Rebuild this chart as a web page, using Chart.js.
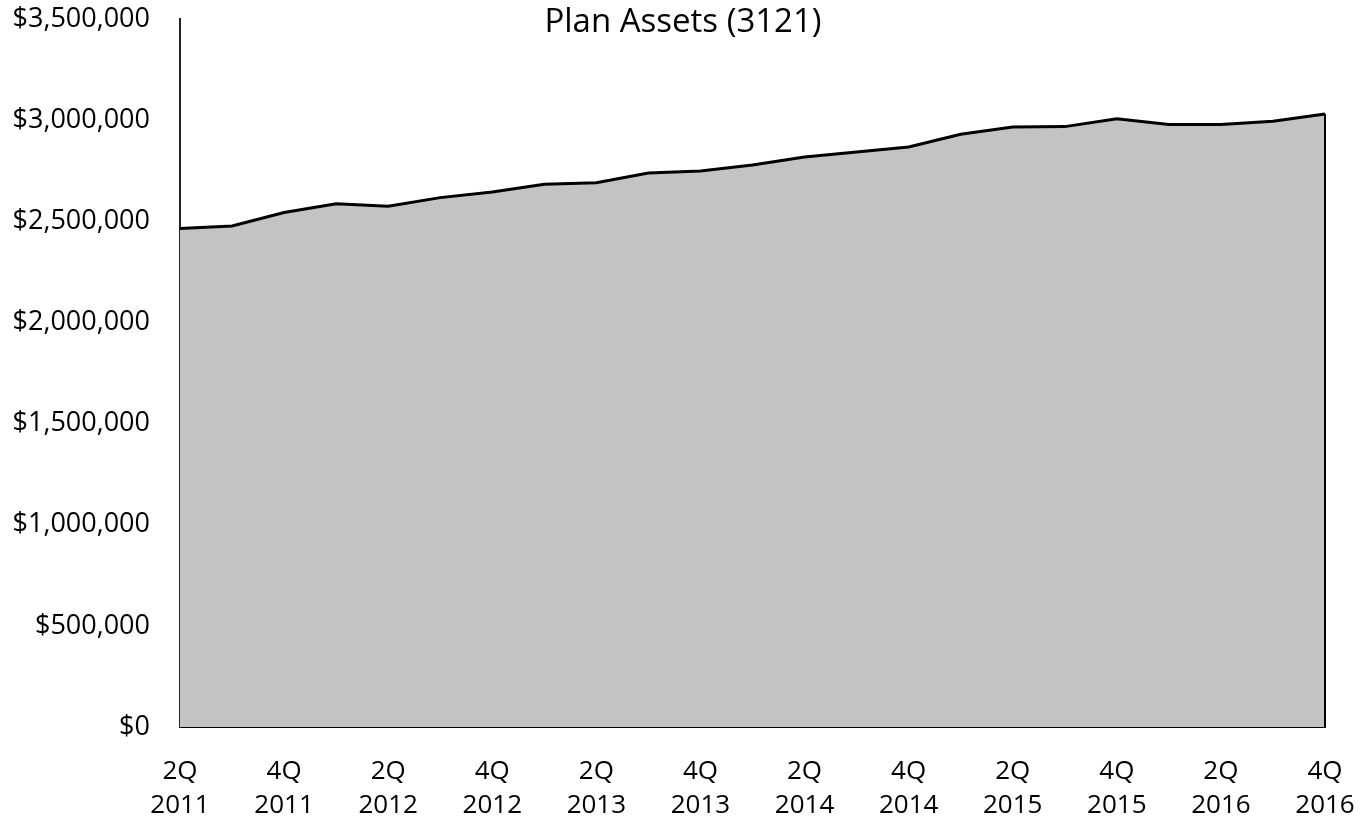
<!DOCTYPE html>
<html>
<head>
<meta charset="utf-8">
<script src="https://cdn.jsdelivr.net/npm/chart.js@4/dist/chart.umd.min.js"></script>
<style>
  html, body { margin: 0; padding: 0; background: #fff; }
  #wrap { position: relative; width: 1370px; height: 825px; }
  #title { position: absolute; left: 0; width: 1366px; top: -3px; text-align: center;
           font-family: "Open Sans", sans-serif; font-size: 33px; color: #000; }
</style>
</head>
<body>
<div id="wrap">
  <canvas id="c" width="1370" height="825"></canvas>
  <div id="title">Plan Assets (3121)</div>
</div>
<script>
const quarters = ["2Q","3Q","4Q","1Q","2Q","3Q","4Q","1Q","2Q","3Q","4Q","1Q","2Q","3Q","4Q","1Q","2Q","3Q","4Q","1Q","2Q","3Q","4Q"];
const years = ["2011","2011","2011","2012","2012","2012","2012","2013","2013","2013","2013","2014","2014","2014","2014","2015","2015","2015","2015","2016","2016","2016","2016"];
const planAssets = [2464000, 2477000, 2543000, 2587000, 2574000, 2617000, 2645000, 2683000, 2691000, 2739000, 2749000, 2778000, 2818000, 2842000, 2867000, 2930000, 2966000, 2968000, 3007000, 2979000, 2979000, 2995000, 3030000];
const yTicks = [0, 500000, 1000000, 1500000, 2000000, 2500000, 3000000, 3500000];

const labels = quarters.map((q, i) => [q, years[i]]);

const edgePlugin = {
  id: 'edge',
  afterDatasetsDraw(chart) {
    const meta = chart.getDatasetMeta(0);
    const last = meta.data[meta.data.length - 1];
    const ctx = chart.ctx;
    ctx.save();
    ctx.strokeStyle = '#000';
    ctx.lineWidth = 2;
    ctx.beginPath();
    ctx.moveTo(last.x, last.y);
    ctx.lineTo(last.x, chart.scales.y.getPixelForValue(0));
    ctx.stroke();
    ctx.restore();
  }
};

Chart.defaults.font.family = '"Open Sans", sans-serif';
Chart.defaults.color = '#000';

new Chart(document.getElementById('c'), {
  type: 'line',
  data: {
    labels: labels,
    datasets: [{
      data: planAssets,
      fill: 'origin',
      backgroundColor: '#c3c3c3',
      borderColor: '#000',
      borderWidth: 3,
      pointRadius: 0,
      tension: 0
    }]
  },
  options: {
    responsive: false,
    animation: false,
    layout: { padding: { top: 19, right: 45, left: 0, bottom: 0 } },
    plugins: { legend: { display: false }, tooltip: { enabled: false }, title: { display: false } },
    scales: {
      x: {
        offset: false,
        grid: { display: false, drawTicks: false },
        border: { display: true, color: '#000', width: 2 },
        ticks: {
          autoSkip: false,
          maxRotation: 0,
          padding: 28,
          font: { size: 26, lineHeight: 1.31 },
          callback: function(v, i) { return i % 2 === 0 ? this.getLabelForValue(v) : ''; }
        },
        afterFit: s => { s.height = 98; s.paddingLeft = 0; s.paddingRight = 0; }
      },
      y: {
        min: 0, max: 3500000,
        afterBuildTicks: s => { s.ticks = yTicks.map(v => ({ value: v })); },
        grid: { display: false, drawTicks: false },
        border: { display: true, color: '#222', width: 2 },
        ticks: {
          padding: 30,
          font: { size: 27 },
          callback: v => '$' + v.toLocaleString('en-US')
        },
        afterFit: s => { s.width = 180; s.paddingTop = 0; s.paddingBottom = 0; }
      }
    }
  },
  plugins: [edgePlugin]
});
</script>
</body>
</html>
